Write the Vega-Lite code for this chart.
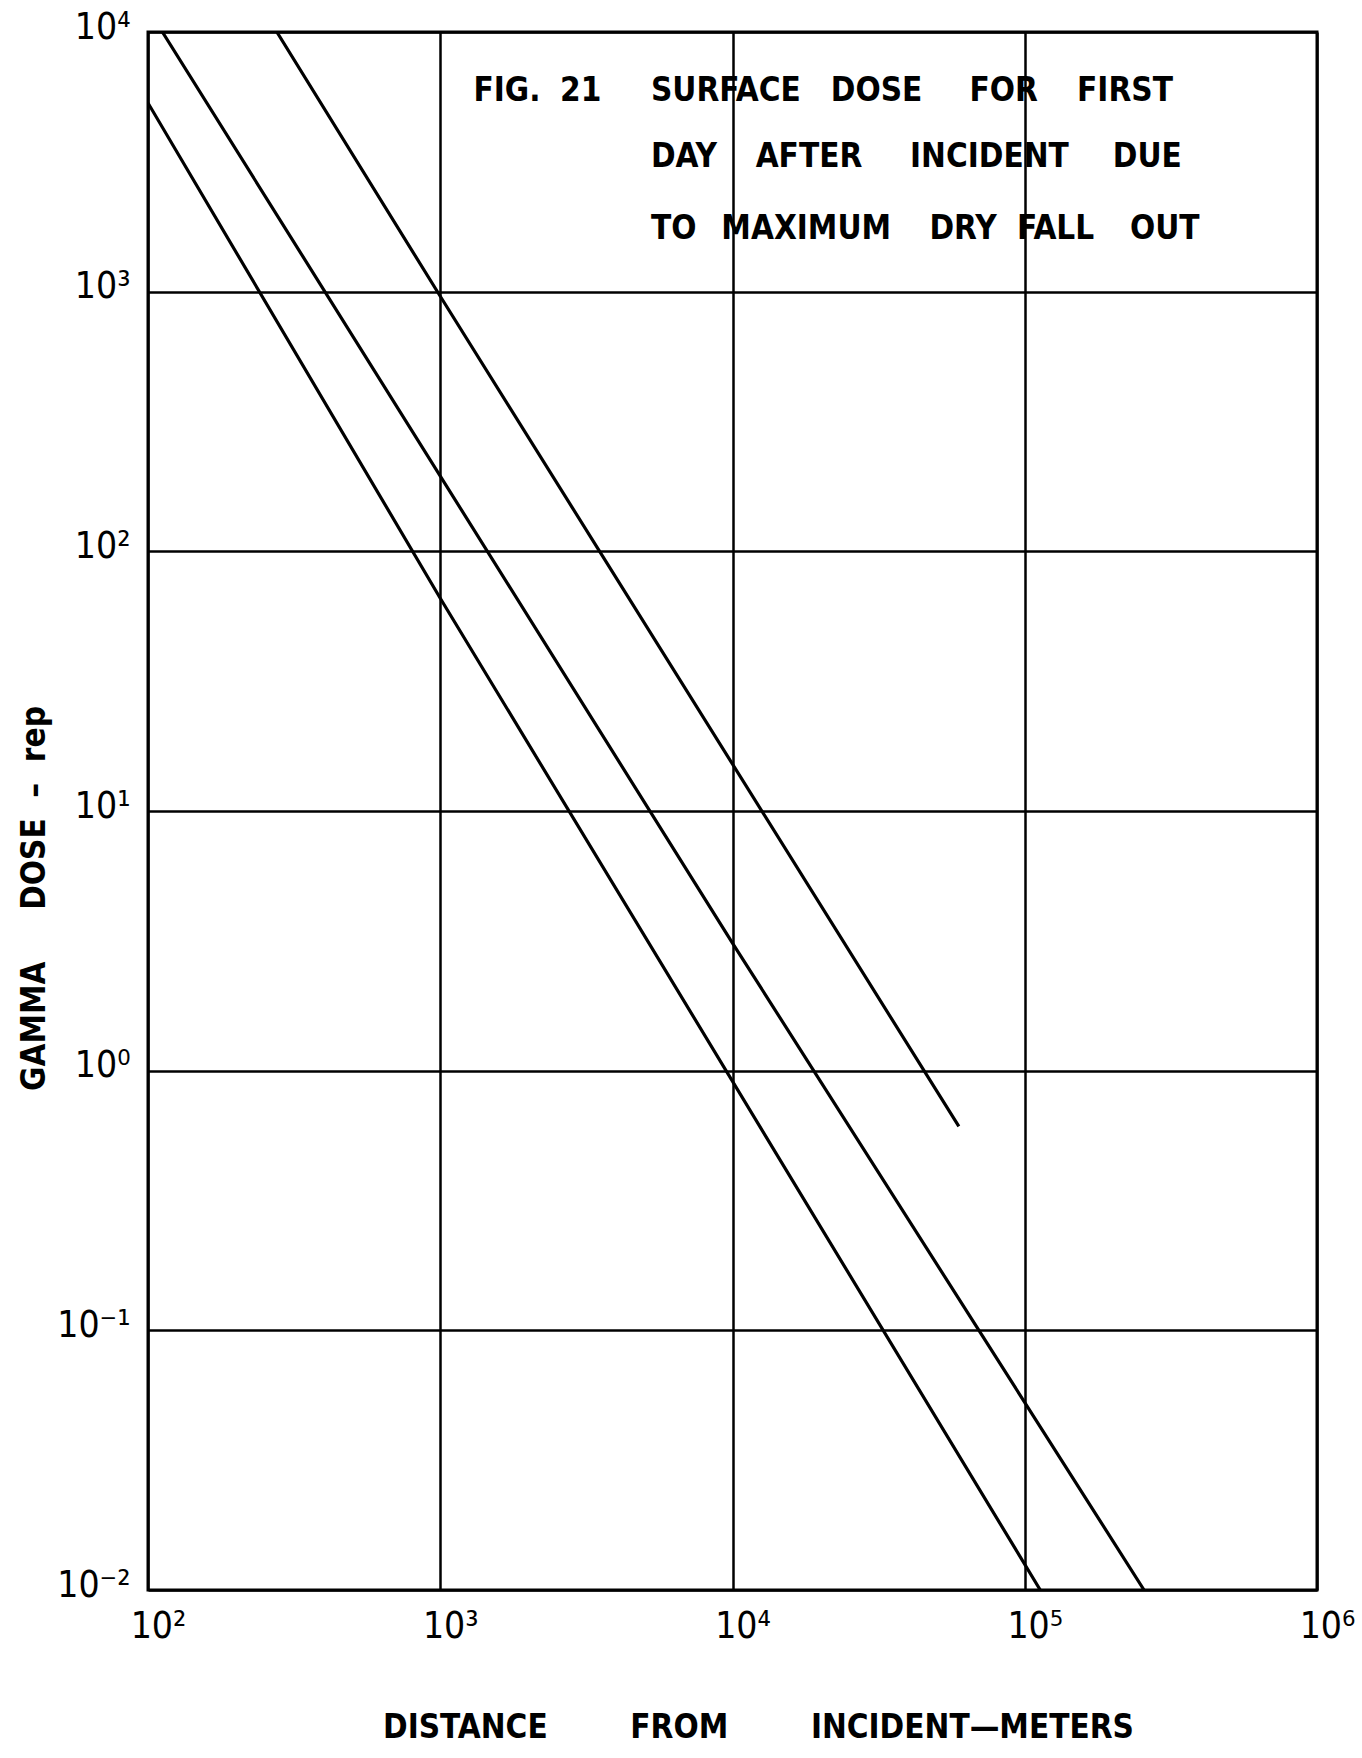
{
  "$schema": "https://vega.github.io/schema/vega-lite/v6.json",
  "width": 1169,
  "height": 1558,
  "autosize": {"type": "none"},
  "padding": {"left": 148, "top": 32, "right": 45, "bottom": 168},
  "background": "white",
  "config": {
    "view": {"stroke": "black", "strokeWidth": 3},
    "font": "'DejaVu Sans Condensed', 'Liberation Sans', sans-serif"
  },
  "datasets": {
    "curves": [
      {"curve": "A", "distance": 100, "dose": 5330},
      {"curve": "A", "distance": 1000, "dose": 66},
      {"curve": "A", "distance": 113000, "dose": 0.01},
      {"curve": "B", "distance": 112, "dose": 10000},
      {"curve": "B", "distance": 10000, "dose": 3.1},
      {"curve": "B", "distance": 256000, "dose": 0.01},
      {"curve": "C", "distance": 276, "dose": 10000},
      {"curve": "C", "distance": 1000, "dose": 960},
      {"curve": "C", "distance": 59500, "dose": 0.61}
    ],
    "notes": [
      {"word": "FIG.", "distance": 1300, "dose": 5930},
      {"word": "21", "distance": 2570, "dose": 5930},
      {"word": "SURFACE", "distance": 5260, "dose": 5930},
      {"word": "DOSE", "distance": 21700, "dose": 5930},
      {"word": "FOR", "distance": 64700, "dose": 5930},
      {"word": "FIRST", "distance": 151000, "dose": 5930},
      {"word": "DAY", "distance": 5260, "dose": 3300},
      {"word": "AFTER", "distance": 12000, "dose": 3300},
      {"word": "INCIDENT", "distance": 40500, "dose": 3300},
      {"word": "DUE", "distance": 200000, "dose": 3300},
      {"word": "TO", "distance": 5260, "dose": 1750},
      {"word": "MAXIMUM", "distance": 9160, "dose": 1750},
      {"word": "DRY", "distance": 47200, "dose": 1750},
      {"word": "FALL", "distance": 94000, "dose": 1750},
      {"word": "OUT", "distance": 229000, "dose": 1750}
    ]
  },
  "layer": [
    {
      "data": {"name": "curves"},
      "mark": {"type": "line", "color": "black", "strokeWidth": 3.2, "clip": true},
      "encoding": {
        "x": {
          "field": "distance",
          "type": "quantitative",
          "scale": {"type": "log", "domain": [100, 1000000], "nice": false},
          "axis": {
            "values": [100, 1000, 10000, 100000, 1000000],
            "labelExpr": "['10²','10³','10⁴','10⁵','10⁶'][round(log(datum.value)/LN10)-2]",
            "grid": true,
            "gridColor": "black",
            "gridWidth": 2.5,
            "gridOpacity": 1,
            "ticks": false,
            "domain": false,
            "labelFontSize": 37,
            "labelColor": "black",
            "labelPadding": 18,
            "labelOffset": 10,
            "labelFlush": false,
            "labelOverlap": false,
            "title": "DISTANCE\u00a0\u00a0\u00a0\u00a0\u00a0\u00a0\u00a0\u00a0FROM\u00a0\u00a0\u00a0\u00a0\u00a0\u00a0\u00a0\u00a0INCIDENT—METERS",
            "titleFontSize": 33,
            "titleFontWeight": "bold",
            "titleColor": "black",
            "titleX": 610,
            "titleY": 137,
            "titleAlign": "center",
            "titleBaseline": "middle"
          }
        },
        "y": {
          "field": "dose",
          "type": "quantitative",
          "scale": {"type": "log", "domain": [0.01, 10000], "nice": false},
          "axis": {
            "values": [0.01, 0.1, 1, 10, 100, 1000, 10000],
            "labelExpr": "['10⁻²','10⁻¹','10⁰','10¹','10²','10³','10⁴'][round(log(datum.value)/LN10)+2]",
            "grid": true,
            "gridColor": "black",
            "gridWidth": 2.5,
            "gridOpacity": 1,
            "ticks": false,
            "domain": false,
            "labelFontSize": 37,
            "labelColor": "black",
            "labelPadding": 18,
            "labelOffset": -5,
            "labelBaseline": "middle",
            "labelFlush": false,
            "labelOverlap": false,
            "title": "GAMMA\u00a0\u00a0\u00a0\u00a0\u00a0DOSE\u00a0\u00a0–\u00a0\u00a0rep",
            "titleFontSize": 33,
            "titleFontWeight": "bold",
            "titleColor": "black",
            "titleAngle": -90,
            "titleX": -114,
            "titleY": 866,
            "titleAlign": "center",
            "titleBaseline": "middle"
          }
        },
        "detail": {"field": "curve"}
      }
    },
    {
      "data": {"name": "notes"},
      "mark": {
        "type": "text",
        "align": "left",
        "baseline": "middle",
        "fontSize": 33,
        "fontWeight": "bold",
        "color": "black"
      },
      "encoding": {
        "x": {"field": "distance", "type": "quantitative"},
        "y": {"field": "dose", "type": "quantitative"},
        "text": {"field": "word"}
      }
    }
  ]
}
